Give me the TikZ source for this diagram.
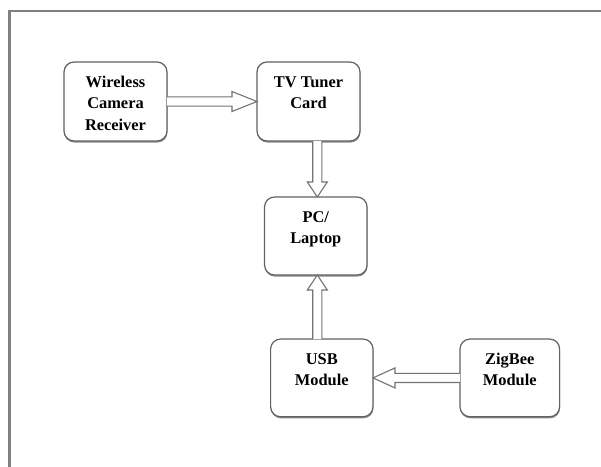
\documentclass[tikz,border=0pt]{standalone}
\usepackage{fontspec}
\setmainfont{Liberation Serif}
\usetikzlibrary{calc,shadows}
\newcommand{\boxtext}[3]{\parbox[t][#2pt][t]{#1pt}{\centering\fontsize{16.4}{21.7}\selectfont\bfseries\rule{0pt}{25pt}#3}}
\newcommand{\hollowarrow}[3]{%
  \path let \p1=(#1), \p2=(#2), \n1={atan2(\y2-\y1,\x2-\x1)}, \n2={veclen(\x2-\x1,\y2-\y1)} in
    [arrowline, shift={(\p1)}, rotate=\n1]
    (0,4.6) -- (\n2-#3,4.6) -- (\n2-#3,10) -- (\n2,0) -- (\n2-#3,-10) -- (\n2-#3,-4.6) -- (0,-4.6);}
\tikzset{
  blockbox/.style={draw=black!62, line width=1.2pt, rounded corners=10pt, fill=white,
    inner sep=0pt, outer sep=0pt,
    drop shadow={shadow xshift=0.4pt, shadow yshift=-1.6pt, fill=black!45, opacity=1}},
  arrowline/.style={draw=black!55, line width=1.1pt, fill=white, line join=miter},
  frameline/.style={draw=black!50, line width=2.3pt}
}
\begin{document}
\begin{tikzpicture}[x=1pt,y=-1pt]
\useasboundingbox (0,0) rectangle (601,466);
\fill[white] (0,0) rectangle (601,466);
\coordinate (fr0) at (9.6,470);
\coordinate (fr1) at (9.6,11.2);
\coordinate (fr2) at (605,11.2);
\draw[frameline] (fr0) -- (fr1) -- (fr2);

\node[blockbox] (wr)  at (115.5,101.5) {\boxtext{103}{79}{Wireless\\Camera\\Receiver}};
\node[blockbox] (tv)  at (308.5,101.5) {\boxtext{103}{79}{TV Tuner\\Card}};
\node[blockbox] (pc)  at (315.8,236)   {\boxtext{102.5}{78}{PC/\\Laptop}};
\node[blockbox] (usb) at (321.8,377.9) {\boxtext{102.4}{77.7}{USB\\Module}};
\node[blockbox] (zb)  at (509.8,377.9) {\boxtext{99.6}{77.7}{ZigBee\\Module}};

\coordinate (ax) at (317.3,0);
\hollowarrow{wr.east}{tv.west}{25}
\hollowarrow{tv.south -| ax}{pc.north -| ax}{15}
\hollowarrow{usb.north -| ax}{pc.south -| ax}{15}
\hollowarrow{zb.west}{usb.east}{22}
\end{tikzpicture}
\end{document}
